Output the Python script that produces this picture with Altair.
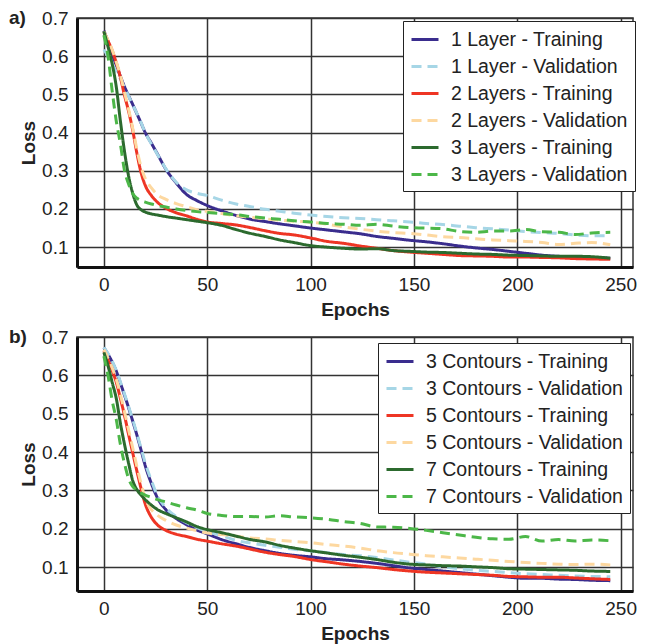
import altair as alt
import pandas as pd

epochs = [0, 2, 4, 6, 8, 10, 12, 14, 16, 18, 20, 23, 26, 30, 35, 40, 45, 50,
          57, 64, 71, 78, 85, 92, 100, 108, 116, 124, 132, 140, 148, 156, 164,
          172, 180, 188, 196, 204, 212, 220, 228, 236, 245]

top_names = ["1 Layer - Training", "1 Layer - Validation",
             "2 Layers - Training", "2 Layers - Validation",
             "3 Layers - Training", "3 Layers - Validation"]

top_t1 = [0.667, 0.638, 0.606, 0.576, 0.547, 0.52, 0.496, 0.473, 0.449, 0.425, 0.40, 0.372, 0.343, 0.304, 0.268, 0.238, 0.222, 0.209,
          0.195, 0.183, 0.173, 0.167, 0.161, 0.156, 0.15, 0.145, 0.14, 0.135, 0.128, 0.123, 0.118, 0.114, 0.109,
          0.103, 0.098, 0.094, 0.089, 0.084, 0.079, 0.076, 0.075, 0.073, 0.071]
top_v1 = [0.617, 0.60, 0.58, 0.56, 0.54, 0.518, 0.495, 0.472, 0.45, 0.426, 0.40, 0.37, 0.342, 0.305, 0.27, 0.25, 0.241, 0.235,
          0.223, 0.213, 0.206, 0.199, 0.194, 0.189, 0.184, 0.18, 0.177, 0.175, 0.172, 0.169, 0.166, 0.162, 0.159,
          0.155, 0.151, 0.148, 0.145, 0.141, 0.138, 0.136, 0.132, 0.13, 0.13]
top_t2 = [0.663, 0.64, 0.615, 0.583, 0.545, 0.497, 0.455, 0.405, 0.345, 0.295, 0.262, 0.235, 0.217, 0.202, 0.19, 0.182, 0.173, 0.166,
          0.162, 0.158, 0.151, 0.143, 0.136, 0.132, 0.124, 0.115, 0.11, 0.103, 0.097, 0.091, 0.087, 0.084, 0.081,
          0.078, 0.077, 0.076, 0.074, 0.074, 0.073, 0.072, 0.07, 0.069, 0.068]
top_v2 = [0.665, 0.642, 0.617, 0.585, 0.55, 0.505, 0.46, 0.41, 0.355, 0.31, 0.28, 0.255, 0.237, 0.225, 0.214, 0.206, 0.198, 0.194,
          0.188, 0.182, 0.178, 0.174, 0.171, 0.168, 0.165, 0.16, 0.153, 0.147, 0.142, 0.138, 0.136, 0.132, 0.127,
          0.125, 0.122, 0.119, 0.117, 0.115, 0.112, 0.107, 0.11, 0.112, 0.106]
top_t3 = [0.665, 0.625, 0.58, 0.52, 0.43, 0.35, 0.285, 0.24, 0.21, 0.198, 0.192, 0.187, 0.184, 0.18, 0.176, 0.172, 0.168, 0.164,
          0.157, 0.146, 0.136, 0.128, 0.119, 0.112, 0.104, 0.1, 0.097, 0.095, 0.096, 0.091, 0.089, 0.087, 0.086,
          0.084, 0.082, 0.081, 0.079, 0.078, 0.077, 0.076, 0.076, 0.075, 0.071]
top_v3 = [0.655, 0.60, 0.51, 0.43, 0.37, 0.30, 0.265, 0.24, 0.228, 0.222, 0.218, 0.213, 0.209, 0.205, 0.20, 0.196, 0.193, 0.191,
          0.188, 0.185, 0.18, 0.176, 0.173, 0.169, 0.166, 0.162, 0.16, 0.157, 0.16, 0.155, 0.151, 0.15, 0.148,
          0.141, 0.139, 0.142, 0.142, 0.146, 0.14, 0.139, 0.133, 0.137, 0.139]

bot_names = ["3 Contours - Training", "3 Contours - Validation",
             "5 Contours - Training", "5 Contours - Validation",
             "7 Contours - Training", "7 Contours - Validation"]

bot_t3 = [0.672, 0.655, 0.635, 0.611, 0.58, 0.548, 0.515, 0.48, 0.444, 0.405, 0.365, 0.318, 0.28, 0.25, 0.227, 0.211, 0.197, 0.187,
          0.172, 0.161, 0.151, 0.143, 0.136, 0.131, 0.127, 0.122, 0.119, 0.115, 0.11, 0.104, 0.098, 0.094, 0.09,
          0.086, 0.082, 0.078, 0.074, 0.071, 0.071, 0.069, 0.068, 0.066, 0.065]
bot_v3 = [0.673, 0.657, 0.637, 0.613, 0.583, 0.551, 0.518, 0.484, 0.448, 0.41, 0.372, 0.326, 0.285, 0.255, 0.232, 0.216, 0.203, 0.193,
          0.182, 0.17, 0.163, 0.157, 0.152, 0.147, 0.142, 0.138, 0.133, 0.13, 0.125, 0.119, 0.113, 0.108, 0.101,
          0.096, 0.092, 0.089, 0.086, 0.083, 0.081, 0.079, 0.077, 0.076, 0.075]
bot_t5 = [0.664, 0.64, 0.613, 0.582, 0.54, 0.495, 0.445, 0.397, 0.35, 0.305, 0.265, 0.23, 0.21, 0.196, 0.186, 0.18, 0.173, 0.168,
          0.161, 0.155, 0.147, 0.139, 0.133, 0.128, 0.12, 0.114, 0.108, 0.103, 0.099, 0.094, 0.09, 0.087, 0.085,
          0.083, 0.081, 0.079, 0.076, 0.075, 0.074, 0.074, 0.072, 0.07, 0.068]
bot_v5 = [0.667, 0.645, 0.62, 0.59, 0.55, 0.505, 0.457, 0.41, 0.362, 0.318, 0.28, 0.25, 0.235, 0.222, 0.21, 0.202, 0.195, 0.189,
          0.185, 0.181, 0.176, 0.174, 0.17, 0.167, 0.164, 0.159, 0.155, 0.15, 0.143, 0.138, 0.134, 0.13, 0.127,
          0.124, 0.121, 0.118, 0.115, 0.112, 0.11, 0.108, 0.107, 0.108, 0.106]
bot_t7 = [0.66, 0.625, 0.582, 0.54, 0.475, 0.42, 0.37, 0.325, 0.302, 0.288, 0.276, 0.262, 0.25, 0.24, 0.229, 0.218, 0.206, 0.198,
          0.19, 0.181, 0.172, 0.166, 0.157, 0.15, 0.143, 0.137, 0.131, 0.126, 0.12, 0.113, 0.108, 0.106, 0.104,
          0.103, 0.101, 0.099, 0.096, 0.095, 0.094, 0.093, 0.092, 0.09, 0.089]
bot_v7 = [0.65, 0.60, 0.535, 0.485, 0.42, 0.37, 0.33, 0.31, 0.30, 0.293, 0.288, 0.282, 0.276, 0.27, 0.262, 0.255, 0.249, 0.24,
          0.235, 0.232, 0.232, 0.231, 0.234, 0.231, 0.229, 0.225, 0.219, 0.214, 0.205, 0.204, 0.201, 0.196, 0.19,
          0.184, 0.178, 0.174, 0.173, 0.18, 0.168, 0.172, 0.168, 0.171, 0.169]

colors = ["#3a2d8e", "#a6d6e6", "#ee3524", "#fdd8a0", "#2c6a2e", "#4cb748"]
dashes = [[1, 0], [10, 6], [1, 0], [10, 6], [1, 0], [10, 6]]
x_ticks = [0, 50, 100, 150, 200, 250]
y_ticks = [0.1, 0.2, 0.3, 0.4, 0.5, 0.6, 0.7]

FONT = "Liberation Sans"
TXT = "#222222"


def make_df(names, series):
    rows = []
    for name, vals in zip(names, series):
        for e, v in zip(epochs, vals):
            rows.append({"epoch": e, "loss": v, "series": name})
    return pd.DataFrame(rows)


def panel(names, series, label, lx, ly, ydom, h):
    df = make_df(names, series)
    leg = alt.Legend(title=None, orient="none", legendX=lx, legendY=ly,
                     symbolType="M-1,0H1.7", symbolSize=400, symbolStrokeWidth=3,
                     labelFontSize=19.5, labelFont=FONT, labelColor=TXT,
                     fillColor="white", strokeColor="#222222", padding=7,
                     rowPadding=6, labelOffset=18, labelLimit=400)
    lines = alt.Chart(df).mark_line(strokeWidth=3, interpolate="monotone").encode(
        x=alt.X("epoch:Q",
                scale=alt.Scale(domain=[-13, 256], nice=False, zero=False),
                axis=alt.Axis(values=x_ticks, title="Epochs", format="d",
                              labelPadding=8, titlePadding=6)),
        y=alt.Y("loss:Q",
                scale=alt.Scale(domain=ydom, nice=False, zero=False),
                axis=alt.Axis(values=y_ticks, title="Loss", format=".1f",
                              labelPadding=9, titlePadding=3)),
        color=alt.Color("series:N", scale=alt.Scale(domain=names, range=colors),
                        legend=leg),
        strokeDash=alt.StrokeDash("series:N",
                                  scale=alt.Scale(domain=names, range=dashes),
                                  legend=leg),
    )
    lab = alt.Chart(pd.DataFrame({"t": [label]})).mark_text(
        align="left", baseline="middle", fontSize=19, fontWeight="bold",
        font=FONT, color=TXT
    ).encode(x=alt.value(-68), y=alt.value(0), text="t:N")
    return alt.layer(lines, lab).properties(width=556, height=h)


top = panel(top_names, [top_t1, top_v1, top_t2, top_v2, top_t3, top_v3],
            "a)", 326, 3, [0.048, 0.7], 249)
bottom = panel(bot_names, [bot_t3, bot_v3, bot_t5, bot_v5, bot_t7, bot_v7],
               "b)", 301, 6, [0.038, 0.7], 254)

chart = alt.vconcat(top, bottom, spacing=7).resolve_scale(
    color="independent", strokeDash="independent"
).resolve_legend(color="independent", strokeDash="independent").properties(
    padding={"left": 0, "top": 0, "right": 0, "bottom": 0}
).configure_axis(
    domainColor="#111111", domainWidth=3, ticks=False,
    gridColor="#333333", gridWidth=1.5, gridOpacity=1,
    labelFont=FONT, labelFontSize=19, labelColor=TXT,
    titleFont=FONT, titleFontSize=19, titleFontWeight="bold", titleColor=TXT,
).configure_view(stroke="#333333", strokeWidth=1.5)

chart.save("out.html", embed_options={"renderer": "svg", "actions": False})
